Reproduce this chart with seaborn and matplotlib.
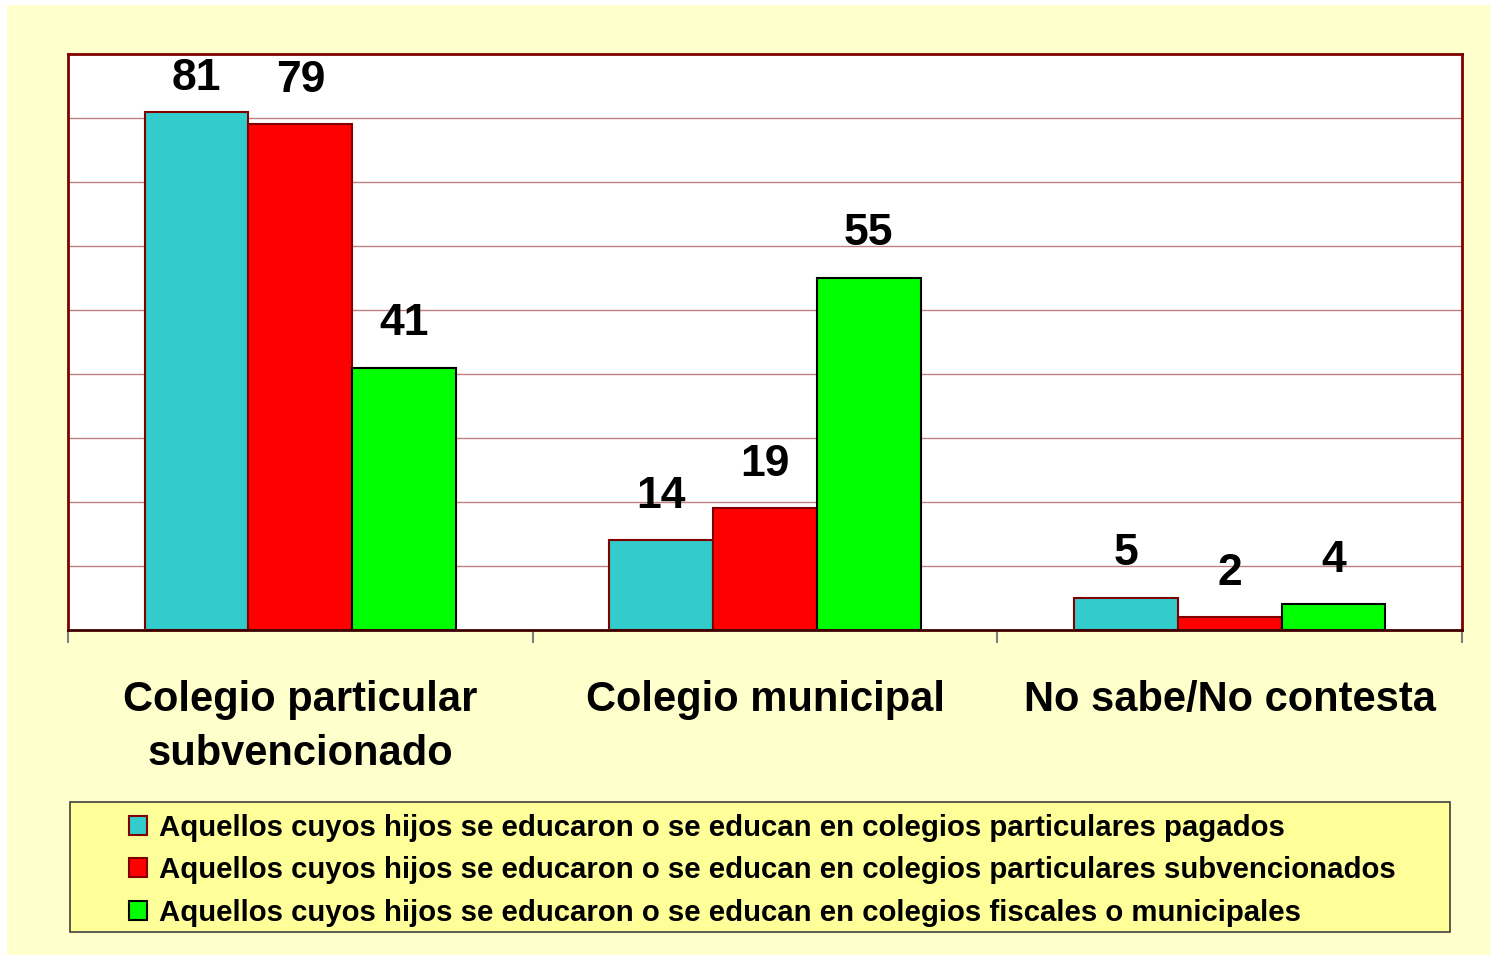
import pandas as pd
import matplotlib.pyplot as plt
import seaborn as sns
from matplotlib.patches import Rectangle

categorias = ["Colegio particular\nsubvencionado", "Colegio municipal", "No sabe/No contesta"]
grupos = [
    "Aquellos cuyos hijos se educaron o se educan en colegios particulares pagados",
    "Aquellos cuyos hijos se educaron o se educan en colegios particulares subvencionados",
    "Aquellos cuyos hijos se educaron o se educan en colegios fiscales o municipales",
]
pagados = [81, 14, 5]
subvencionados = [79, 19, 2]
municipales = [41, 55, 4]

colores = ["#33CCCC", "#FF0000", "#00FF00"]
bordes = ["#800000", "#800000", "#000000"]

df = pd.DataFrame({
    "categoria": categorias * 3,
    "grupo": [grupos[0]] * 3 + [grupos[1]] * 3 + [grupos[2]] * 3,
    "valor": pagados + subvencionados + municipales,
})

sns.set_theme(style="white")
plt.rcParams["font.family"] = ["Liberation Sans", "DejaVu Sans"]
plt.rcParams["font.weight"] = "bold"
plt.rcParams["text.color"] = "black"
plt.rcParams["xtick.color"] = "black"

fig = plt.figure(figsize=(14.94, 9.57), dpi=100)
fig.patch.set_facecolor("white")
fig.patches.append(Rectangle((7 / 1494, 1 - 955 / 957), 1483 / 1494, 950 / 957,
                             transform=fig.transFigure, facecolor="#FFFFCC",
                             edgecolor="none", zorder=-10))

ax = fig.add_axes([68 / 1494, 1 - 630 / 957, 1394 / 1494, 576 / 957])
sns.barplot(data=df, x="categoria", y="valor", hue="grupo", hue_order=grupos,
            palette=colores, width=0.67, saturation=1, ax=ax, legend=False)

ax.set_ylim(0, 90)
for cont, borde in zip(ax.containers, bordes):
    for barra in cont:
        barra.set_edgecolor(borde)
        barra.set_linewidth(1.5)
    etiquetas = ax.bar_label(cont, fontsize=32, fontweight="bold", padding=17, color="black")
    # como en Excel, la etiqueta que no cabe arriba se baja
    for barra, et in zip(cont, etiquetas):
        if barra.get_height() > 80:
            et.xyann = (0, 9)

ax.set_xlim(-0.5, 2.5)
ax.set_yticks(range(10, 90, 10))
ax.set_yticklabels([])
ax.tick_params(axis="y", length=0)
ax.grid(axis="y", color="#C08080", linewidth=1)
ax.set_axisbelow(True)
ax.set_facecolor("white")
for s in ax.spines.values():
    s.set_color("#800000")
    s.set_linewidth(2)
ax.spines["bottom"].set_color("#400000")

ax.set_xlabel("")
ax.set_ylabel("")
ax.set_xticks([-0.5, 0.5, 1.5, 2.5], minor=True)
ax.tick_params(axis="x", which="minor", length=9, width=1.5, color="gray", direction="out", bottom=True)
ax.tick_params(axis="x", which="major", length=0, pad=36, labelsize=30, labelcolor="black")
for t in ax.get_xticklabels():
    t.set_fontweight("bold")
    t.set_linespacing(1.45)

# recuadro de la leyenda
fig.patches.append(Rectangle((70 / 1494, 1 - 932 / 957), 1380 / 1494, 130 / 957,
                             transform=fig.transFigure, facecolor="#FFFF99",
                             edgecolor="#404040", linewidth=1.2, zorder=-5))
handles = [Rectangle((0, 0), 1, 1, facecolor=c, edgecolor=b, linewidth=1.5)
           for c, b in zip(colores, bordes)]
fig.legend(handles, grupos, loc="upper left", bbox_to_anchor=(123 / 1494, 1 - 808 / 957),
           frameon=False, handlelength=0.62, handleheight=0.62,
           handletextpad=0.40, labelspacing=0.49, borderaxespad=0, borderpad=0.2,
           prop={"weight": "bold", "size": 21.2})

fig.savefig("out.png", dpi=100)
